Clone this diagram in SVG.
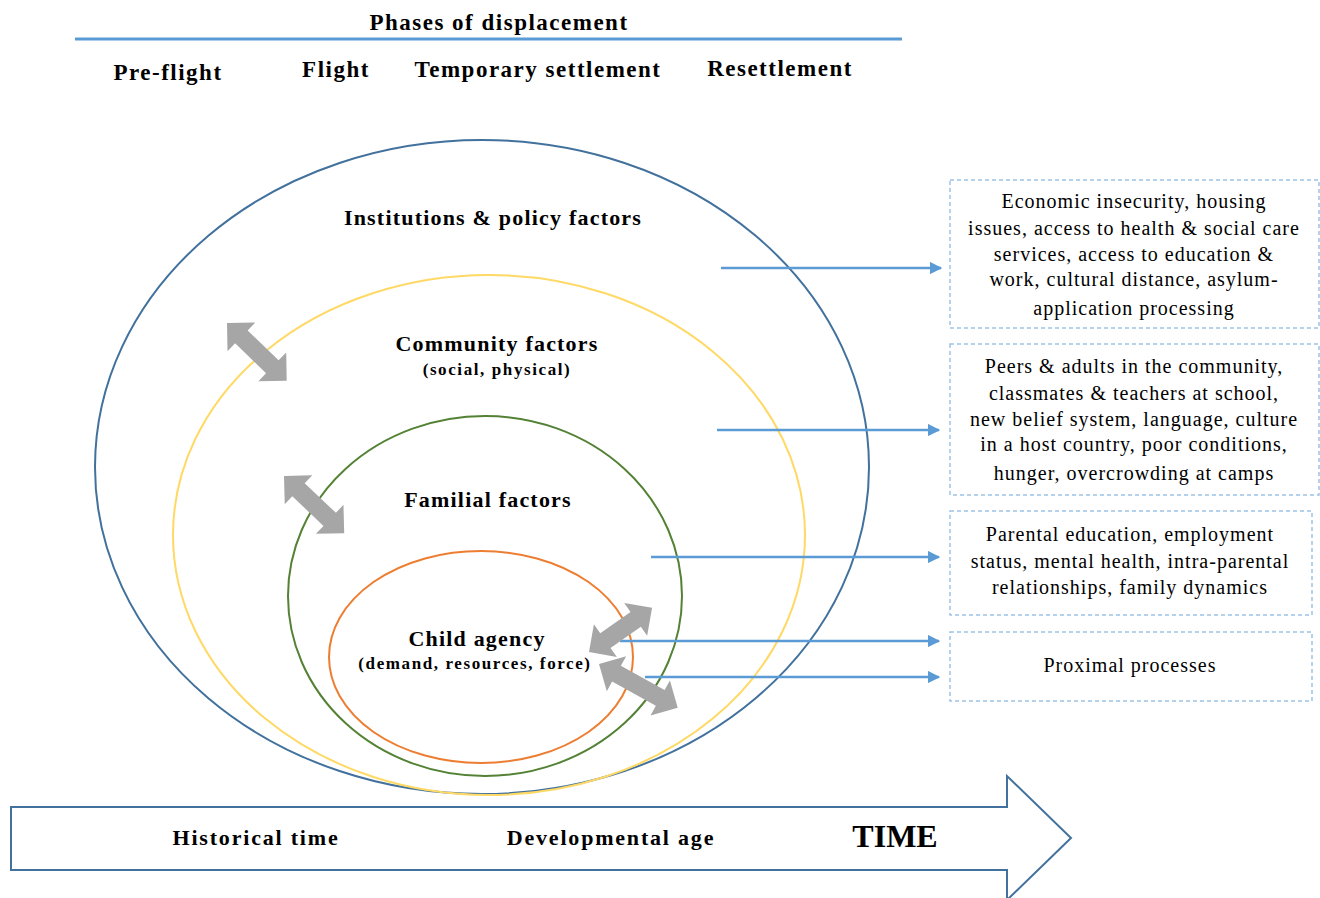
<svg xmlns="http://www.w3.org/2000/svg" width="1320" height="898" viewBox="0 0 1320 898">
<defs>
<style>
.t{font-family:"Liberation Serif","Times New Roman",serif;fill:#000}
.b{font-weight:bold}
.hd{font-size:23px;font-weight:bold;letter-spacing:1.5px;text-anchor:middle}
.tl{font-size:22px;font-weight:bold;letter-spacing:1.8px;text-anchor:middle}
.lbl{font-size:22px;font-weight:bold;letter-spacing:1.2px;text-anchor:middle}
.sub{font-size:17px;font-weight:bold;letter-spacing:1.6px;text-anchor:middle}
.bx{font-size:20px;letter-spacing:1px;text-anchor:middle}
.box{fill:#fff;stroke:#9dc3e6;stroke-width:1.5;stroke-dasharray:4 3}
.conn{stroke:#5b9bd5;stroke-width:2.5;fill:none}
.dbl{fill:#a6a6a6}
</style>
<marker id="ah" viewBox="0 0 10 10" refX="9" refY="5" markerWidth="5" markerHeight="5" orient="auto" markerUnits="strokeWidth">
<path d="M0,0 L10,5 L0,10 z" fill="#5b9bd5"/>
</marker>
</defs>
<rect width="1320" height="898" fill="#fff"/>

<g id="header">
<text class="t hd" x="499" y="30">Phases of displacement</text>
<line x1="75" y1="39" x2="902" y2="39" stroke="#5b9bd5" stroke-width="3"/>
<text class="t hd" x="168" y="80">Pre-flight</text>
<text class="t hd" x="336" y="77">Flight</text>
<text class="t hd" x="538" y="77">Temporary settlement</text>
<text class="t hd" x="780" y="76">Resettlement</text>
</g>

<g id="time-arrow">
<path d="M11,807 H1007 V776 L1071,838 L1007,900 V870 H11 Z" fill="#fff" stroke="#41719c" stroke-width="2"/>
<text class="t tl" x="256" y="845">Historical time</text>
<text class="t tl" x="611" y="845">Developmental age</text>
<text class="t b" x="895" y="847" text-anchor="middle" font-size="32">TIME</text>
</g>

<g id="institutions">
<ellipse cx="482" cy="467" rx="387" ry="327" fill="none" stroke="#41719c" stroke-width="2"/>
<text class="t lbl" x="493" y="225">Institutions &amp; policy factors</text>
</g>
<g id="community">
<ellipse cx="489" cy="535" rx="316" ry="260" fill="none" stroke="#ffd966" stroke-width="2"/>
<text class="t lbl" x="497" y="351">Community factors</text>
<text class="t sub" x="497" y="375">(social, physical)</text>
</g>
<g id="familial">
<ellipse cx="485" cy="596" rx="197" ry="180" fill="none" stroke="#548235" stroke-width="2"/>
<text class="t lbl" x="488" y="507">Familial factors</text>
</g>
<g id="child">
<ellipse cx="481" cy="657" rx="152" ry="106" fill="none" stroke="#ed7d31" stroke-width="2"/>
<text class="t lbl" x="477" y="646">Child agency</text>
<text class="t sub" x="475" y="669">(demand, resources, force)</text>
</g>

<g id="box-institutions">
<rect class="box" x="950" y="180" width="369" height="148"/>
<text class="t bx" x="1134" y="208">Economic insecurity, housing</text>
<text class="t bx" x="1134" y="235">issues, access to health &amp; social care</text>
<text class="t bx" x="1134" y="261">services, access to education &amp;</text>
<text class="t bx" x="1134" y="286">work, cultural distance, asylum-</text>
<text class="t bx" x="1134" y="315">application processing</text>
</g>
<g id="box-community">
<rect class="box" x="950" y="344" width="369" height="151"/>
<text class="t bx" x="1134" y="373">Peers &amp; adults in the community,</text>
<text class="t bx" x="1134" y="400">classmates &amp; teachers at school,</text>
<text class="t bx" x="1134" y="426">new belief system, language, culture</text>
<text class="t bx" x="1134" y="451">in a host country, poor conditions,</text>
<text class="t bx" x="1134" y="480">hunger, overcrowding at camps</text>
</g>
<g id="box-familial">
<rect class="box" x="950" y="511" width="362" height="104"/>
<text class="t bx" x="1130" y="541">Parental education, employment</text>
<text class="t bx" x="1130" y="568">status, mental health, intra-parental</text>
<text class="t bx" x="1130" y="594">relationships, family  dynamics</text>
</g>
<g id="box-proximal">
<rect class="box" x="950" y="632" width="362" height="69"/>
<text class="t bx" x="1130" y="672">Proximal  processes</text>
</g>

<g id="connectors">
<line class="conn" x1="721" y1="268" x2="941" y2="268" marker-end="url(#ah)"/>
<line class="conn" x1="717" y1="430" x2="939" y2="430" marker-end="url(#ah)"/>
<line class="conn" x1="651" y1="557" x2="939" y2="557" marker-end="url(#ah)"/>
<line class="conn" x1="620" y1="641" x2="939" y2="641" marker-end="url(#ah)"/>
<line class="conn" x1="645" y1="677" x2="939" y2="677" marker-end="url(#ah)"/>
</g>

<g id="interaction-arrows">
<polygon class="dbl" transform="translate(227,323) rotate(44)" points="0,0 20,-20 20,-9 63,-9 63,-20 83,0 63,20 63,9 20,9 20,20"/>
<polygon class="dbl" transform="translate(284,476) rotate(43.5)" points="0,0 20,-20 20,-9 63,-9 63,-20 83,0 63,20 63,9 20,9 20,20"/>
<polygon class="dbl" transform="translate(589,652) rotate(-35)" points="0,0 20,-20 20,-9 57,-9 57,-20 77,0 57,20 57,9 20,9 20,20"/>
<polygon class="dbl" transform="translate(599,664) rotate(29)" points="0,0 20,-20 20,-9 70,-9 70,-20 90,0 70,20 70,9 20,9 20,20"/>
</g>
</svg>
